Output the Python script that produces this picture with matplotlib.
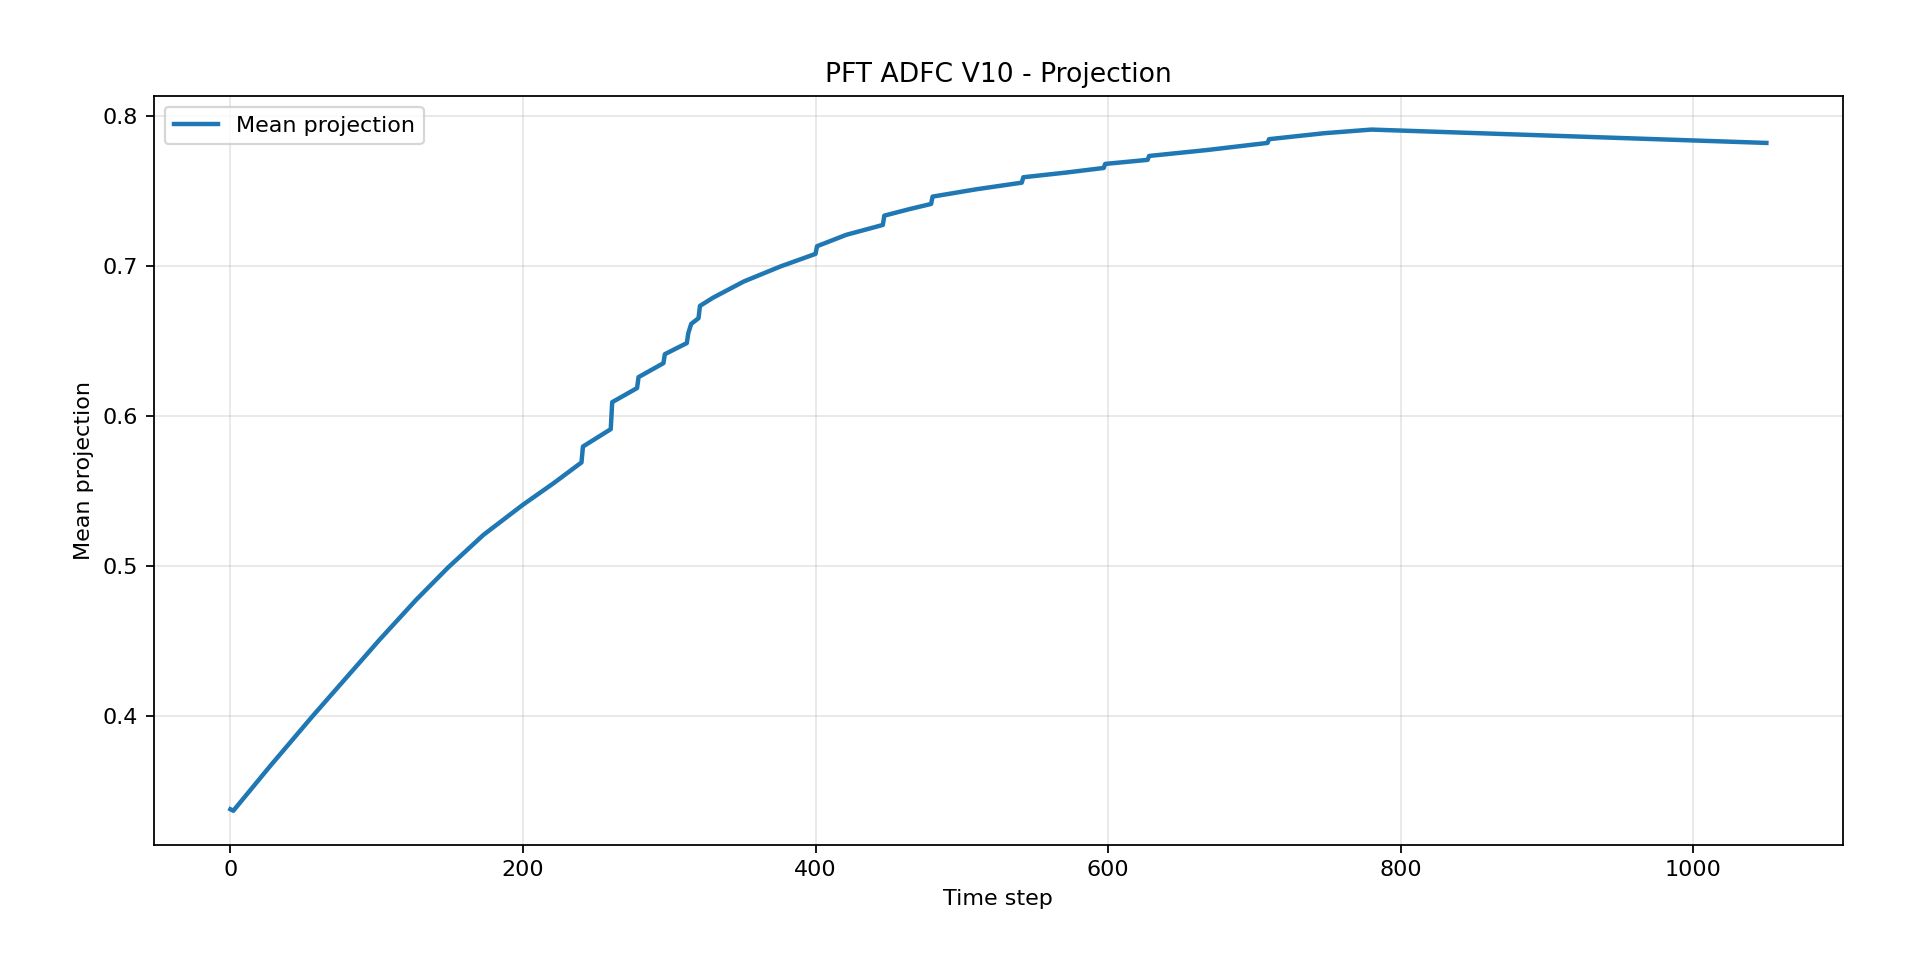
import numpy as np
import matplotlib
matplotlib.use("Agg")
import matplotlib.pyplot as plt

# values (time step, mean projection)
time_step = [0, 2, 27, 56, 80, 102, 127, 149, 173, 200, 221, 240,
             241, 260, 261, 278, 279, 296, 297, 312, 313, 315, 320, 321,
             330, 351, 376, 400, 401, 421, 446, 447, 464, 479, 480,
             510, 541, 542, 571, 597, 598, 627, 628, 668, 709, 710,
             748, 780, 1050]
mean_proj = [0.3378, 0.3368, 0.3664, 0.3997, 0.4264, 0.4509, 0.4775, 0.4992, 0.5208, 0.5409, 0.5553, 0.5691,
             0.5797, 0.5913, 0.6093, 0.6187, 0.6260, 0.6353, 0.6413, 0.6487, 0.6553, 0.6615, 0.6653, 0.6735,
             0.6790, 0.6898, 0.6998, 0.7082, 0.7133, 0.7209, 0.7275, 0.7337, 0.7380, 0.7415, 0.7464,
             0.7513, 0.7557, 0.7593, 0.7624, 0.7655, 0.7682, 0.7709, 0.7735, 0.7775, 0.7822, 0.7847,
             0.7887, 0.7911, 0.7822]

fig, ax = plt.subplots(figsize=(12, 6), dpi=160)
fig.subplots_adjust(left=0.08, right=0.96, top=0.9005, bottom=0.12)

ax.plot(time_step, mean_proj, linewidth=2, label='Mean projection')

ax.set_title('PFT ADFC V10 - Projection')
ax.set_xlabel('Time step')
ax.set_ylabel('Mean projection')
ax.grid(True, alpha=0.3)
ax.legend(loc='upper left')

fig.savefig('out.png', dpi=160)
